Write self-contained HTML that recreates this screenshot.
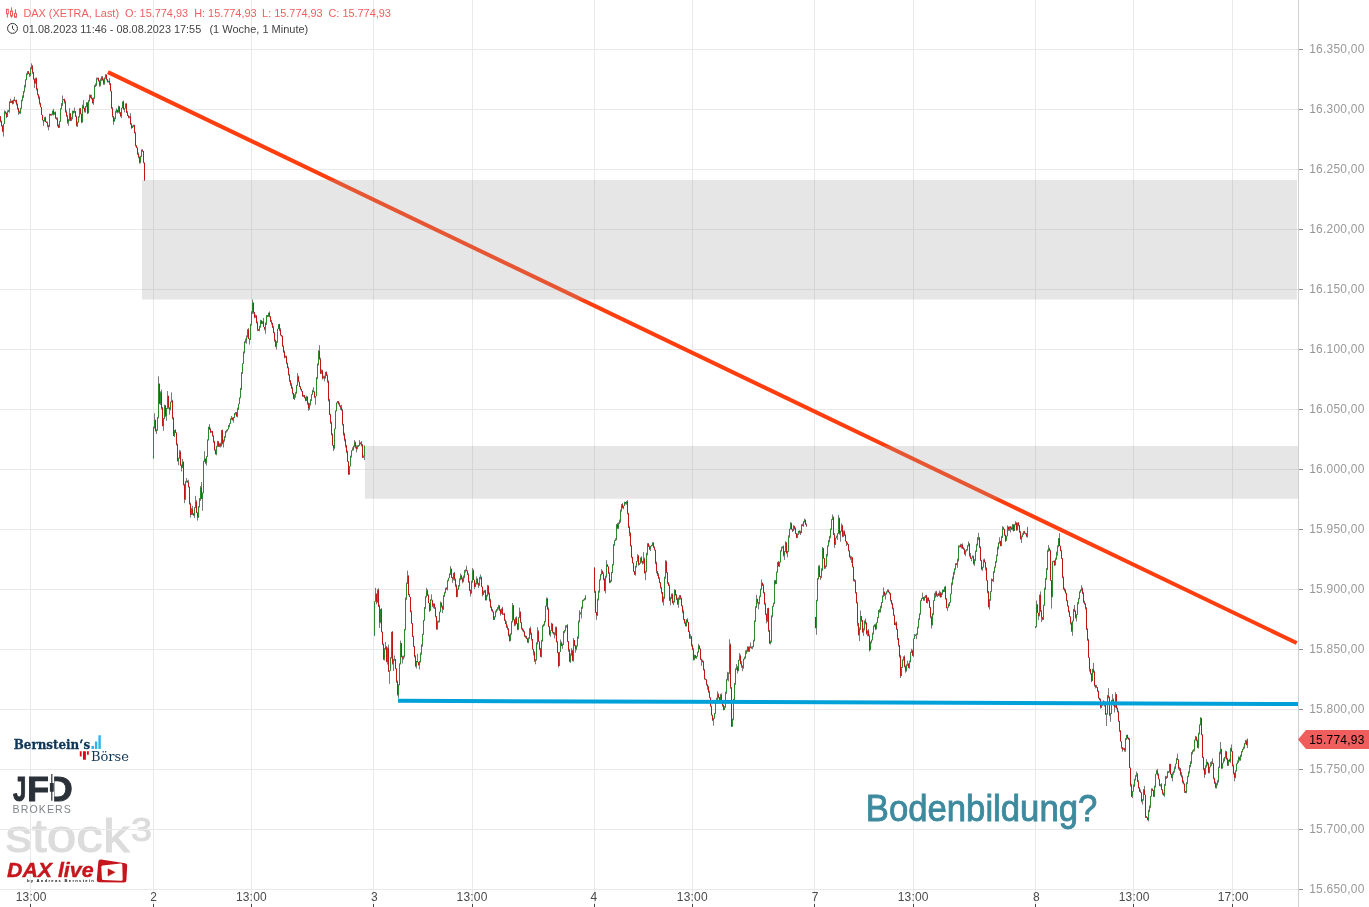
<!DOCTYPE html>
<html lang="de"><head><meta charset="utf-8"><title>DAX Chart</title>
<style>
html,body{margin:0;padding:0;background:#fff;}
body{width:1369px;height:907px;overflow:hidden;position:relative;font-family:"Liberation Sans",sans-serif;}
svg{position:absolute;left:0;top:0;display:block}
svg text{font-family:"Liberation Sans",sans-serif;}
.pl text{font-size:12px;fill:#999;}
.xl text{font-size:12px;fill:#4a4a4a;text-anchor:middle;letter-spacing:0.2px;}
</style></head><body>
<svg width="1369" height="907" viewBox="0 0 1369 907">
<rect width="1369" height="907" fill="#fff"/>
<!-- stock3 -->
<g fill="#dcdcdc" stroke="#dcdcdc" stroke-width="1"><text x="5.500" y="852.400" font-size="45.500" textLength="124" lengthAdjust="spacingAndGlyphs">stock</text><text x="131" y="841" font-size="33.500" textLength="21" lengthAdjust="spacingAndGlyphs">3</text></g>
<path d="M30.5 0V907M153.5 0V907M251.5 0V907M373.5 0V907M472.5 0V907M594.5 0V907M692.5 0V907M814.5 0V907M913.5 0V907M1035.5 0V907M1133.5 0V907M1232.5 0V907M0 49.5H1298M0 109.5H1298M0 169.5H1298M0 229.5H1298M0 289.5H1298M0 349.5H1298M0 409.5H1298M0 469.5H1298M0 529.5H1298M0 589.5H1298M0 649.5H1298M0 709.5H1298M0 769.5H1298M0 829.5H1298M0 889.5H1298" stroke="#e9e9e9" stroke-width="1" fill="none"/>
<!-- candles -->
<path d="M0.5 116.1V122.4M1.5 120.5V126.5M2.5 125.1V131.7M3.5 123.8V136.6M4.5 110.4V124.1M5.5 111.0V114.4M6.5 112.4V118.2M7.5 110.3V117.1M8.5 110.1V112.2M9.5 101.4V112.7M10.5 98.8V103.0M11.5 100.8V103.0M12.5 100.2V104.5M13.5 99.4V103.8M14.5 96.7V100.6M15.5 100.1V102.5M16.5 99.6V105.5M17.5 103.3V109.7M18.5 107.7V114.9M19.5 110.7V113.7M20.5 107.7V114.0M21.5 99.7V108.9M22.5 95.3V101.4M23.5 91.1V98.0M24.5 84.9V92.5M25.5 79.3V87.5M26.5 73.2V80.2M27.5 71.4V75.2M28.5 71.1V74.1M29.5 73.4V77.0M30.5 67.2V76.4M31.5 63.4V69.3M32.5 65.0V73.9M33.5 72.1V79.7M34.5 78.5V88.0M35.5 77.8V83.8M36.5 77.5V90.5M37.5 88.2V95.4M38.5 94.3V99.1M39.5 96.3V104.6M40.5 102.7V107.3M41.5 107.0V115.1M42.5 114.7V120.6M43.5 120.1V125.9M44.5 117.1V121.3M45.5 116.7V122.1M46.5 121.3V123.0M47.5 121.5V127.3M48.5 124.9V130.4M49.5 113.6V127.1M50.5 113.9V115.4M51.5 113.7V115.6M52.5 110.7V115.2M53.5 108.8V115.5M54.5 111.8V114.7M55.5 111.5V119.0M56.5 117.4V119.8M57.5 117.4V126.6M58.5 124.2V128.0M59.5 120.8V127.7M60.5 108.3V121.8M61.5 103.0V109.5M62.5 95.5V106.1M63.5 99.2V100.4M64.5 98.7V103.5M65.5 100.5V112.6M66.5 110.4V116.6M67.5 115.0V123.7M68.5 119.1V125.9M69.5 108.1V121.1M70.5 113.0V121.2M71.5 116.8V120.8M72.5 110.7V119.4M73.5 110.7V113.7M74.5 107.6V112.9M75.5 111.2V116.6M76.5 115.6V126.5M77.5 121.6V127.0M78.5 116.4V122.7M79.5 108.3V117.6M80.5 108.0V114.3M81.5 113.5V123.3M82.5 104.6V122.6M83.5 100.1V108.8M84.5 107.9V112.4M85.5 106.2V112.7M86.5 102.1V107.4M87.5 102.3V114.1M88.5 99.9V113.3M89.5 94.4V101.6M90.5 94.6V98.2M91.5 94.8V99.4M92.5 97.8V103.6M93.5 97.4V104.9M94.5 85.0V99.2M95.5 83.3V87.0M96.5 77.5V86.1M97.5 77.6V79.7M98.5 77.6V81.4M99.5 80.1V86.9M100.5 78.5V86.3M101.5 76.2V81.2M102.5 76.1V80.7M103.5 78.5V84.9M104.5 77.5V84.8M105.5 74.3V78.7M106.5 74.6V80.3M107.5 79.4V82.5M108.5 80.7V82.5M109.5 78.1V85.1M110.5 83.2V91.2M111.5 90.7V108.7M112.5 107.1V117.5M113.5 116.0V124.8M114.5 117.5V121.6M115.5 110.7V119.3M116.5 108.4V112.8M117.5 109.8V113.4M118.5 105.5V112.7M119.5 106.0V113.9M120.5 112.2V116.9M121.5 107.7V118.2M122.5 101.5V108.4M123.5 100.6V109.7M124.5 108.4V112.3M125.5 103.5V108.3M126.5 103.0V112.9M127.5 111.1V116.0M128.5 115.1V118.3M129.5 116.3V118.3M130.5 113.2V124.8M131.5 123.1V128.9M132.5 125.4V128.0M133.5 124.8V127.2M134.5 124.7V133.3M135.5 131.8V146.6M136.5 145.2V148.2M137.5 147.5V154.8M138.5 152.5V158.4M139.5 156.5V163.7M140.5 155.8V163.4M141.5 149.4V157.1M142.5 149.3V151.9M143.5 151.0V163.3M144.5 162.6V180.9M153.5 426.6V458.8M154.5 413.3V428.7M155.5 419.6V431.5M156.5 429.4V434.0M157.5 416.9V430.9M158.5 376.3V418.4M159.5 383.6V404.2M160.5 391.3V405.0M161.5 389.6V409.5M162.5 406.9V426.3M163.5 418.1V430.8M164.5 404.6V419.2M165.5 404.9V416.9M166.5 408.1V420.9M167.5 391.0V409.0M168.5 395.8V408.8M169.5 407.5V414.8M170.5 401.6V410.4M171.5 392.4V402.5M172.5 399.8V419.4M173.5 417.1V435.9M174.5 429.9V437.0M175.5 429.3V432.9M176.5 432.4V445.5M177.5 443.4V461.5M178.5 457.6V465.3M179.5 449.9V458.6M180.5 450.5V465.6M181.5 464.3V471.4M182.5 458.9V468.0M183.5 461.5V485.6M184.5 483.8V503.2M185.5 480.8V500.0M186.5 478.0V482.5M187.5 480.4V482.5M188.5 479.7V487.6M189.5 486.6V504.6M190.5 502.7V517.5M191.5 507.9V515.0M192.5 505.8V515.2M193.5 513.1V515.8M194.5 507.1V518.1M195.5 495.9V508.1M196.5 500.3V513.1M197.5 512.3V520.6M198.5 506.0V518.0M199.5 498.0V507.6M200.5 486.1V500.9M201.5 482.0V499.1M202.5 492.4V510.8M203.5 460.7V493.2M204.5 451.2V461.9M205.5 458.4V463.9M206.5 456.1V465.7M207.5 439.3V457.1M208.5 426.7V440.5M209.5 424.1V429.7M210.5 427.7V433.1M211.5 430.9V432.5M212.5 431.0V436.5M213.5 435.2V442.9M214.5 440.8V450.7M215.5 449.4V454.6M216.5 445.8V455.3M217.5 440.8V447.2M218.5 441.2V446.9M219.5 443.3V447.1M220.5 442.6V447.5M221.5 430.2V446.6M222.5 429.5V444.3M223.5 439.6V447.6M224.5 436.0V441.8M225.5 431.0V437.6M226.5 429.7V432.7M227.5 429.0V431.4M228.5 424.9V429.3M229.5 423.3V427.3M230.5 418.4V423.8M231.5 416.0V420.0M232.5 417.6V420.6M233.5 417.0V422.6M234.5 413.0V418.1M235.5 411.9V414.8M236.5 412.0V416.7M237.5 407.7V417.4M238.5 403.8V410.0M239.5 397.3V404.3M240.5 387.8V398.3M241.5 372.2V390.0M242.5 363.3V374.0M243.5 351.4V363.9M244.5 341.4V353.6M245.5 338.6V343.1M246.5 335.4V343.7M247.5 329.3V337.5M248.5 328.1V339.0M249.5 338.4V344.5M250.5 323.9V339.9M251.5 311.2V325.8M252.5 299.5V314.1M253.5 302.5V313.7M254.5 312.1V318.3M255.5 314.5V317.8M256.5 315.5V323.4M257.5 321.4V331.2M258.5 329.2V331.0M259.5 325.8V331.2M260.5 319.9V327.7M261.5 320.3V324.1M262.5 321.3V324.1M263.5 317.9V327.1M264.5 326.9V330.4M265.5 322.3V333.8M266.5 315.1V325.1M267.5 315.1V317.0M268.5 312.6V316.5M269.5 311.5V317.3M270.5 316.2V321.9M271.5 320.0V324.6M272.5 322.7V328.1M273.5 325.9V333.3M274.5 331.8V341.8M275.5 339.5V347.1M276.5 341.1V349.5M277.5 328.7V342.9M278.5 324.2V329.1M279.5 323.8V331.3M280.5 328.1V335.6M281.5 334.8V336.7M282.5 335.5V346.8M283.5 345.4V352.8M284.5 350.4V358.4M285.5 355.5V357.8M286.5 355.7V364.2M287.5 362.6V368.4M288.5 366.6V375.6M289.5 374.1V382.1M290.5 380.2V385.9M291.5 383.0V388.6M292.5 386.6V394.4M293.5 393.0V399.0M294.5 394.4V400.0M295.5 391.9V397.7M296.5 384.8V393.8M297.5 373.1V385.7M298.5 375.6V382.2M299.5 381.6V387.1M300.5 385.9V389.9M301.5 388.9V391.6M302.5 390.8V396.7M303.5 394.8V397.1M304.5 395.1V398.4M305.5 396.8V401.3M306.5 395.7V401.1M307.5 396.4V404.8M308.5 402.4V410.9M309.5 403.0V409.9M310.5 399.3V405.6M311.5 394.3V401.1M312.5 389.7V394.9M313.5 387.1V392.2M314.5 391.2V398.1M315.5 396.4V404.8M316.5 377.0V396.3M317.5 363.4V379.3M318.5 350.3V365.5M319.5 345.2V359.5M320.5 357.7V374.1M321.5 369.3V373.9M322.5 369.8V379.6M323.5 375.7V378.6M324.5 375.6V381.3M325.5 371.8V378.6M326.5 371.4V375.8M327.5 374.5V382.7M328.5 380.4V401.5M329.5 398.9V414.9M330.5 413.8V423.8M331.5 421.6V435.4M332.5 433.4V445.8M333.5 445.0V451.0M334.5 428.5V449.3M335.5 410.4V429.2M336.5 402.6V411.3M337.5 401.1V403.4M338.5 401.0V404.7M339.5 402.5V406.8M340.5 405.5V409.9M341.5 404.9V410.6M342.5 408.8V425.5M343.5 424.0V435.8M344.5 432.7V441.4M345.5 438.6V447.6M346.5 444.9V453.1M347.5 450.5V461.8M348.5 461.2V475.1M349.5 465.9V474.7M350.5 455.6V466.3M351.5 450.3V457.6M352.5 447.3V450.8M353.5 445.7V450.4M354.5 440.2V447.3M355.5 441.6V448.4M356.5 445.4V452.4M357.5 445.2V449.3M358.5 444.9V447.1M359.5 440.1V445.8M360.5 442.5V444.4M361.5 441.1V446.5M362.5 443.9V458.0M363.5 455.6V457.7M364.5 445.4V460.1M374.5 601.5V635.9M375.5 587.8V601.7M376.5 593.6V604.3M377.5 589.2V602.8M378.5 588.2V607.0M379.5 604.7V628.0M380.5 608.9V623.3M381.5 608.2V632.4M382.5 631.8V645.1M383.5 643.5V660.1M384.5 648.0V660.5M385.5 642.0V649.5M386.5 646.2V662.2M387.5 647.3V664.6M388.5 644.6V671.8M389.5 670.5V683.9M390.5 657.0V670.8M391.5 631.8V658.3M392.5 631.0V664.6M393.5 658.8V671.1M394.5 655.5V660.9M395.5 659.0V669.2M396.5 668.3V682.9M397.5 680.4V695.7M398.5 684.1V698.4M399.5 663.3V685.4M400.5 640.6V664.5M401.5 643.2V657.4M402.5 655.8V663.5M403.5 655.6V659.7M404.5 629.0V657.6M405.5 597.4V630.4M406.5 582.5V599.9M407.5 570.6V584.0M408.5 575.1V595.3M409.5 593.9V597.1M410.5 596.8V612.2M411.5 610.6V623.8M412.5 623.2V636.9M413.5 635.8V647.2M414.5 646.0V657.4M415.5 655.2V667.1M416.5 660.9V668.6M417.5 653.8V662.3M418.5 661.9V665.3M419.5 660.8V669.6M420.5 652.6V662.5M421.5 644.4V654.8M422.5 633.9V646.8M423.5 620.0V634.9M424.5 607.0V620.9M425.5 596.1V609.0M426.5 587.8V597.5M427.5 589.4V595.9M428.5 594.4V603.3M429.5 602.9V611.9M430.5 599.5V610.9M431.5 594.3V599.8M432.5 599.7V607.0M433.5 603.3V608.3M434.5 603.3V609.0M435.5 607.2V617.4M436.5 616.1V629.9M437.5 620.7V629.8M438.5 620.6V622.6M439.5 611.5V622.4M440.5 601.4V612.2M441.5 602.4V607.6M442.5 605.6V613.1M443.5 595.2V610.0M444.5 591.8V597.0M445.5 587.7V593.3M446.5 587.2V589.7M447.5 579.9V590.5M448.5 577.8V581.3M449.5 573.3V578.3M450.5 566.1V575.0M451.5 568.6V578.1M452.5 576.9V582.9M453.5 572.8V580.3M454.5 571.8V580.7M455.5 578.5V587.2M456.5 584.4V597.4M457.5 588.6V596.9M458.5 585.0V589.7M459.5 578.3V586.7M460.5 573.6V580.3M461.5 574.9V579.5M462.5 577.4V583.3M463.5 575.6V582.2M464.5 570.0V578.2M465.5 569.3V572.5M466.5 565.7V571.0M467.5 570.1V574.7M468.5 573.3V582.9M469.5 581.3V591.1M470.5 589.4V596.5M471.5 580.6V593.6M472.5 568.1V582.7M473.5 569.3V580.0M474.5 579.7V589.1M475.5 582.6V587.1M476.5 576.4V584.6M477.5 578.3V584.6M478.5 582.7V588.1M479.5 576.8V585.9M480.5 574.5V579.5M481.5 576.9V587.2M482.5 586.7V596.5M483.5 590.6V595.0M484.5 590.2V592.9M485.5 589.9V600.5M486.5 594.8V600.4M487.5 584.8V596.7M488.5 585.3V594.8M489.5 592.4V601.7M490.5 598.8V608.1M491.5 606.4V611.2M492.5 608.9V612.4M493.5 611.4V620.0M494.5 616.2V619.9M495.5 610.6V617.3M496.5 609.1V612.5M497.5 607.1V610.7M498.5 604.8V609.5M499.5 605.0V611.1M500.5 609.4V615.7M501.5 608.6V613.7M502.5 606.7V614.9M503.5 613.9V614.8M504.5 612.9V620.9M505.5 619.4V624.1M506.5 621.3V628.0M507.5 625.3V629.9M508.5 628.3V636.5M509.5 634.2V641.5M510.5 633.1V641.2M511.5 621.4V634.7M512.5 603.0V622.5M513.5 604.8V620.4M514.5 619.5V626.3M515.5 617.3V625.7M516.5 616.4V624.1M517.5 623.3V630.3M518.5 617.4V630.2M519.5 607.6V618.0M520.5 611.3V623.1M521.5 622.3V629.5M522.5 627.8V631.3M523.5 629.2V632.4M524.5 631.1V636.9M525.5 635.3V638.1M526.5 635.9V639.2M527.5 638.1V642.9M528.5 637.4V643.2M529.5 628.2V638.9M530.5 626.6V634.9M531.5 632.5V640.6M532.5 639.1V649.5M533.5 648.8V655.5M534.5 651.3V662.0M535.5 659.1V664.3M536.5 642.2V660.7M537.5 627.2V644.4M538.5 630.2V641.8M539.5 641.5V650.2M540.5 647.9V657.1M541.5 639.8V657.5M542.5 625.4V641.7M543.5 623.8V626.9M544.5 620.9V625.8M545.5 605.8V622.3M546.5 597.5V606.7M547.5 597.8V609.9M548.5 607.4V627.2M549.5 626.3V635.4M550.5 630.4V636.9M551.5 622.7V630.8M552.5 623.7V633.3M553.5 631.9V634.6M554.5 632.3V638.4M555.5 626.5V635.6M556.5 626.6V642.3M557.5 641.0V653.2M558.5 652.1V667.5M559.5 651.9V666.0M560.5 639.5V652.0M561.5 641.6V646.2M562.5 643.5V648.8M563.5 631.0V645.0M564.5 630.1V633.2M565.5 625.4V631.3M566.5 625.3V627.7M567.5 624.2V642.2M568.5 641.2V651.8M569.5 648.9V662.1M570.5 653.4V662.9M571.5 648.2V655.7M572.5 649.9V661.4M573.5 638.0V661.6M574.5 640.1V646.2M575.5 644.9V652.7M576.5 645.5V650.2M577.5 636.2V646.5M578.5 620.6V638.9M579.5 610.2V622.5M580.5 612.4V614.6M581.5 606.6V618.5M582.5 599.9V608.9M583.5 599.4V601.3M584.5 597.9V600.5M585.5 595.1V599.9M594.5 567.1V593.0M595.5 590.7V612.9M596.5 611.9V619.9M597.5 598.6V615.9M598.5 590.5V600.5M599.5 579.4V592.7M600.5 574.3V580.5M601.5 569.1V575.4M602.5 570.5V573.9M603.5 572.3V580.5M604.5 578.2V591.2M605.5 575.6V593.4M606.5 560.1V577.8M607.5 564.4V566.9M608.5 566.5V573.7M609.5 572.2V583.3M610.5 579.9V582.6M611.5 571.8V581.5M612.5 564.0V573.3M613.5 543.9V565.5M614.5 540.1V545.7M615.5 538.2V541.2M616.5 524.1V540.3M617.5 522.9V529.2M618.5 522.4V529.0M619.5 519.6V523.8M620.5 509.5V522.7M621.5 504.1V511.7M622.5 503.1V508.4M623.5 505.7V509.3M624.5 501.7V506.1M625.5 502.1V504.4M626.5 501.1V504.7M627.5 500.2V514.5M628.5 512.9V528.1M629.5 525.9V536.3M630.5 532.3V546.5M631.5 545.2V558.1M632.5 556.7V563.3M633.5 562.4V571.7M634.5 571.0V575.0M635.5 565.7V575.7M636.5 561.0V567.5M637.5 554.1V561.5M638.5 555.5V565.7M639.5 563.0V565.0M640.5 557.5V563.6M641.5 556.3V562.7M642.5 560.9V564.5M643.5 552.1V563.9M644.5 557.5V573.3M645.5 570.9V580.2M646.5 552.7V572.3M647.5 543.2V555.5M648.5 543.0V546.8M649.5 545.3V550.0M650.5 546.0V551.0M651.5 544.8V546.5M652.5 542.1V546.2M653.5 542.1V547.7M654.5 546.3V550.6M655.5 549.8V564.2M656.5 561.5V573.4M657.5 571.2V576.0M658.5 573.2V578.9M659.5 577.2V583.3M660.5 582.1V588.6M661.5 586.9V593.9M662.5 592.0V602.6M663.5 596.5V605.6M664.5 576.6V599.1M665.5 560.2V578.7M666.5 560.6V573.2M667.5 572.3V584.0M668.5 582.2V585.9M669.5 584.4V600.7M670.5 596.9V605.4M671.5 593.5V599.0M672.5 593.3V603.3M673.5 600.7V605.2M674.5 589.2V602.6M675.5 589.8V595.7M676.5 594.1V600.1M677.5 597.8V605.0M678.5 597.3V607.9M679.5 595.0V600.0M680.5 595.0V599.6M681.5 597.6V606.3M682.5 605.2V613.3M683.5 609.9V620.3M684.5 618.9V623.7M685.5 621.4V626.4M686.5 619.0V626.6M687.5 618.2V622.7M688.5 622.0V632.1M689.5 630.6V638.9M690.5 634.2V638.9M691.5 636.4V646.5M692.5 644.4V650.1M693.5 648.2V660.5M694.5 654.6V660.2M695.5 654.9V658.4M696.5 656.0V658.8M697.5 651.5V656.6M698.5 643.9V652.6M699.5 645.6V649.3M700.5 648.4V659.9M701.5 658.7V665.9M702.5 659.7V662.4M703.5 660.7V670.6M704.5 668.9V679.6M705.5 678.4V679.5M706.5 679.2V685.7M707.5 684.2V689.8M708.5 685.8V692.9M709.5 690.6V698.2M710.5 697.4V706.5M711.5 705.7V715.4M712.5 714.6V721.1M713.5 717.8V725.7M714.5 712.9V718.7M715.5 701.5V714.1M716.5 697.7V703.5M717.5 691.2V700.2M718.5 693.3V698.4M719.5 697.0V702.2M720.5 693.8V701.7M721.5 693.4V702.8M722.5 700.7V706.7M723.5 704.7V710.4M724.5 706.1V710.1M725.5 691.6V707.8M726.5 678.9V693.9M727.5 671.8V680.4M728.5 672.6V681.4M729.5 639.3V674.1M730.5 643.4V688.9M731.5 687.2V727.0M732.5 718.8V726.8M733.5 698.8V720.3M734.5 682.9V701.2M735.5 668.2V684.9M736.5 664.0V670.0M737.5 665.9V673.6M738.5 659.8V671.3M739.5 653.1V660.9M740.5 654.4V664.4M741.5 661.0V667.8M742.5 665.4V671.2M743.5 658.7V668.8M744.5 656.6V659.5M745.5 650.3V658.7M746.5 649.8V653.9M747.5 646.4V652.1M748.5 646.6V651.6M749.5 646.2V651.9M750.5 642.4V647.6M751.5 646.3V648.7M752.5 646.4V649.2M753.5 639.7V647.3M754.5 620.4V641.5M755.5 606.2V622.0M756.5 594.9V607.9M757.5 598.7V603.6M758.5 602.2V609.3M759.5 595.7V604.4M760.5 588.8V597.1M761.5 579.4V590.0M762.5 582.6V586.0M763.5 584.1V593.5M764.5 591.9V604.8M765.5 602.7V615.1M766.5 613.5V623.3M767.5 608.1V622.0M768.5 607.7V631.9M769.5 629.9V644.0M770.5 640.5V644.5M771.5 615.3V642.5M772.5 605.8V617.3M773.5 602.5V606.8M774.5 580.1V604.1M775.5 580.2V584.4M776.5 571.5V584.1M777.5 562.2V572.6M778.5 560.9V566.6M779.5 561.6V567.1M780.5 550.1V562.6M781.5 546.6V551.4M782.5 546.4V548.4M783.5 545.4V556.6M784.5 551.0V559.9M785.5 541.3V551.9M786.5 542.0V553.6M787.5 550.9V557.3M788.5 535.3V552.1M789.5 528.7V537.7M790.5 522.1V529.3M791.5 522.7V529.8M792.5 528.8V532.1M793.5 525.2V531.2M794.5 525.8V529.8M795.5 527.4V533.9M796.5 533.1V538.3M797.5 533.6V538.1M798.5 530.8V534.9M799.5 530.4V533.6M800.5 530.7V535.0M801.5 524.4V533.2M802.5 523.7V525.9M803.5 521.0V526.9M804.5 518.6V522.6M805.5 519.6V524.7M806.5 523.3V526.9M815.5 616.9V628.3M816.5 599.8V634.8M817.5 578.2V601.3M818.5 565.5V579.6M819.5 565.0V577.1M820.5 575.9V579.9M821.5 568.1V577.9M822.5 547.0V571.0M823.5 548.0V558.6M824.5 558.1V569.1M825.5 565.6V568.8M826.5 553.9V567.1M827.5 545.6V556.6M828.5 540.0V546.8M829.5 535.9V542.5M830.5 528.7V538.3M831.5 519.0V530.2M832.5 514.4V519.9M833.5 516.3V535.1M834.5 533.1V547.9M835.5 537.6V544.8M836.5 535.6V538.3M837.5 533.3V540.1M838.5 514.8V533.9M839.5 517.6V534.7M840.5 530.7V541.7M841.5 523.5V531.7M842.5 524.8V537.3M843.5 530.5V537.1M844.5 530.4V536.1M845.5 534.3V541.7M846.5 541.1V546.0M847.5 542.2V544.9M848.5 543.8V551.4M849.5 550.4V557.3M850.5 555.6V559.8M851.5 556.3V563.0M852.5 557.3V567.5M853.5 566.5V581.3M854.5 578.9V581.5M855.5 579.9V593.6M856.5 592.2V603.3M857.5 601.8V626.3M858.5 622.9V635.7M859.5 627.4V641.1M860.5 610.4V630.1M861.5 616.0V621.7M862.5 619.8V632.9M863.5 628.1V635.9M864.5 620.4V630.4M865.5 618.5V624.4M866.5 622.2V634.5M867.5 630.3V636.4M868.5 629.1V636.2M869.5 634.4V651.5M870.5 641.3V650.3M871.5 639.8V643.4M872.5 632.6V640.5M873.5 625.5V634.7M874.5 624.3V627.2M875.5 623.6V630.2M876.5 622.3V629.6M877.5 616.9V623.0M878.5 610.0V618.2M879.5 608.9V612.7M880.5 605.7V612.6M881.5 602.0V608.3M882.5 595.4V603.0M883.5 587.6V597.0M884.5 591.4V596.1M885.5 593.1V599.6M886.5 591.5V594.5M887.5 589.4V592.5M888.5 589.4V592.7M889.5 591.7V594.5M890.5 592.9V601.5M891.5 600.0V604.6M892.5 602.7V609.4M893.5 607.6V615.7M894.5 614.6V625.0M895.5 622.5V625.6M896.5 621.4V630.1M897.5 628.8V640.0M898.5 638.0V646.6M899.5 645.0V657.7M900.5 654.9V678.0M901.5 667.0V676.2M902.5 659.6V668.0M903.5 656.4V660.8M904.5 655.4V667.4M905.5 665.5V672.7M906.5 664.4V671.7M907.5 660.7V665.8M908.5 663.5V668.2M909.5 660.6V668.7M910.5 651.7V662.3M911.5 648.8V652.8M912.5 649.7V656.0M913.5 638.3V657.0M914.5 634.0V639.0M915.5 634.4V636.1M916.5 633.5V639.2M917.5 626.8V635.2M918.5 618.5V628.3M919.5 613.5V620.1M920.5 600.2V614.9M921.5 598.2V601.3M922.5 592.6V598.9M923.5 597.0V600.8M924.5 596.2V600.8M925.5 595.2V598.0M926.5 594.7V602.8M927.5 597.4V603.5M928.5 597.3V601.4M929.5 599.9V608.1M930.5 606.9V618.3M931.5 616.4V628.6M932.5 613.2V625.6M933.5 600.1V615.2M934.5 592.9V601.1M935.5 591.3V597.8M936.5 590.8V596.4M937.5 594.1V597.1M938.5 592.8V596.0M939.5 590.6V596.5M940.5 591.8V597.7M941.5 592.5V597.2M942.5 589.5V594.8M943.5 589.4V592.0M944.5 586.6V592.1M945.5 585.8V599.6M946.5 598.0V608.4M947.5 607.8V610.9M948.5 603.4V607.8M949.5 602.0V606.0M950.5 593.7V602.8M951.5 582.4V594.4M952.5 576.6V585.3M953.5 571.8V579.6M954.5 568.4V574.7M955.5 563.3V569.9M956.5 563.1V565.1M957.5 558.7V567.8M958.5 545.2V561.6M959.5 546.1V547.7M960.5 543.7V547.3M961.5 544.0V548.5M962.5 543.4V548.7M963.5 547.0V549.6M964.5 548.3V554.6M965.5 550.2V556.2M966.5 549.0V551.6M967.5 545.1V550.6M968.5 541.4V546.4M969.5 543.5V556.7M970.5 553.0V558.7M971.5 557.7V561.3M972.5 555.4V558.3M973.5 555.6V564.6M974.5 559.0V565.9M975.5 550.4V561.1M976.5 543.7V552.0M977.5 537.0V545.7M978.5 532.8V540.1M979.5 537.5V548.2M980.5 546.2V561.0M981.5 560.0V570.1M982.5 566.9V570.9M983.5 559.3V567.8M984.5 558.6V562.6M985.5 561.7V570.5M986.5 567.5V580.5M987.5 580.1V593.4M988.5 590.8V607.5M989.5 599.1V609.6M990.5 591.1V601.0M991.5 578.4V591.9M992.5 579.3V581.4M993.5 571.1V582.1M994.5 566.4V572.9M995.5 561.2V567.6M996.5 554.7V562.9M997.5 546.5V556.2M998.5 542.5V549.6M999.5 537.2V543.9M1000.5 540.7V546.4M1001.5 535.8V546.1M1002.5 526.1V538.0M1003.5 526.8V529.7M1004.5 528.8V536.2M1005.5 534.6V542.0M1006.5 535.7V540.7M1007.5 525.4V536.2M1008.5 526.7V530.9M1009.5 526.4V530.8M1010.5 526.2V532.5M1011.5 526.7V529.9M1012.5 524.2V530.4M1013.5 524.5V531.5M1014.5 524.1V530.9M1015.5 521.2V525.3M1016.5 522.6V530.8M1017.5 522.5V530.3M1018.5 522.0V526.4M1019.5 525.1V532.8M1020.5 530.8V539.6M1021.5 535.5V543.0M1022.5 533.2V537.3M1023.5 531.4V535.0M1024.5 530.8V533.8M1025.5 532.9V534.4M1026.5 533.0V537.1M1027.5 526.8V537.7M1035.5 626.0V628.2M1036.5 600.5V627.3M1037.5 604.1V613.1M1038.5 612.9V620.1M1039.5 594.6V616.4M1040.5 591.4V611.8M1041.5 610.1V622.1M1042.5 617.2V620.3M1043.5 604.7V620.0M1044.5 587.5V605.8M1045.5 577.9V589.9M1046.5 568.0V579.6M1047.5 549.8V570.2M1048.5 545.0V551.9M1049.5 547.6V551.2M1050.5 549.8V580.8M1051.5 580.0V608.6M1052.5 560.9V597.4M1053.5 560.7V562.3M1054.5 560.2V565.9M1055.5 557.8V565.4M1056.5 551.6V559.8M1057.5 545.3V555.6M1058.5 538.2V547.2M1059.5 533.1V546.2M1060.5 545.6V551.2M1061.5 549.8V559.1M1062.5 558.1V578.2M1063.5 576.4V589.7M1064.5 587.7V591.5M1065.5 589.2V593.7M1066.5 592.7V601.3M1067.5 600.1V606.4M1068.5 605.4V612.4M1069.5 610.7V617.1M1070.5 616.3V624.6M1071.5 622.2V632.0M1072.5 620.6V635.8M1073.5 608.8V621.3M1074.5 604.9V612.1M1075.5 610.3V618.6M1076.5 614.0V621.5M1077.5 602.1V614.8M1078.5 598.0V604.2M1079.5 591.3V599.2M1080.5 589.4V592.8M1081.5 585.2V591.2M1082.5 587.6V594.1M1083.5 592.0V602.8M1084.5 600.7V604.6M1085.5 603.1V609.6M1086.5 607.1V630.0M1087.5 628.2V640.9M1088.5 638.7V657.8M1089.5 657.5V671.7M1090.5 668.9V674.6M1091.5 673.3V682.1M1092.5 668.7V681.1M1093.5 662.9V672.9M1094.5 670.6V686.7M1095.5 684.8V688.4M1096.5 684.9V687.8M1097.5 687.0V691.8M1098.5 690.5V698.8M1099.5 697.7V700.2M1100.5 698.4V708.6M1101.5 705.0V708.1M1102.5 702.9V706.0M1103.5 700.3V704.1M1104.5 701.4V706.6M1105.5 704.5V714.9M1106.5 713.6V726.0M1107.5 695.1V714.7M1108.5 688.1V698.5M1109.5 696.5V716.3M1110.5 712.9V721.8M1111.5 699.9V713.9M1112.5 694.2V701.9M1113.5 698.5V705.8M1114.5 704.1V712.5M1115.5 692.2V707.6M1116.5 694.1V709.3M1117.5 707.6V712.3M1118.5 710.6V721.9M1119.5 720.8V732.1M1120.5 730.4V741.5M1121.5 741.4V748.7M1122.5 747.0V751.7M1123.5 747.8V749.7M1124.5 747.9V751.6M1125.5 738.0V751.8M1126.5 734.9V739.9M1127.5 734.6V738.9M1128.5 737.3V740.0M1129.5 738.0V768.0M1130.5 767.6V786.7M1131.5 783.8V797.0M1132.5 790.9V798.1M1133.5 784.4V791.6M1134.5 778.8V786.9M1135.5 775.3V780.4M1136.5 771.6V776.8M1137.5 773.0V781.8M1138.5 780.2V788.6M1139.5 787.0V791.7M1140.5 789.4V792.5M1141.5 792.4V802.3M1142.5 799.2V804.7M1143.5 789.0V800.6M1144.5 785.9V794.9M1145.5 794.7V818.0M1146.5 816.0V818.0M1147.5 816.9V820.3M1148.5 809.8V821.4M1149.5 805.3V812.1M1150.5 795.8V808.2M1151.5 788.3V796.8M1152.5 788.4V790.9M1153.5 789.9V796.9M1154.5 785.6V797.2M1155.5 773.8V787.7M1156.5 769.8V774.2M1157.5 768.8V775.7M1158.5 773.3V779.3M1159.5 778.7V786.1M1160.5 784.3V786.5M1161.5 783.2V790.2M1162.5 789.2V794.6M1163.5 792.5V795.4M1164.5 783.9V796.9M1165.5 775.8V785.9M1166.5 776.2V779.1M1167.5 771.0V777.8M1168.5 771.2V773.1M1169.5 763.7V772.6M1170.5 763.9V774.7M1171.5 773.8V778.1M1172.5 772.4V781.4M1173.5 770.7V774.7M1174.5 766.5V772.7M1175.5 763.6V769.0M1176.5 757.9V764.0M1177.5 753.6V759.6M1178.5 759.0V769.4M1179.5 766.9V771.1M1180.5 768.0V775.6M1181.5 772.0V777.5M1182.5 775.5V783.3M1183.5 780.4V784.5M1184.5 783.5V793.0M1185.5 791.0V793.1M1186.5 782.3V793.2M1187.5 775.8V784.1M1188.5 771.3V777.2M1189.5 764.9V773.5M1190.5 761.2V767.3M1191.5 752.0V763.9M1192.5 750.2V754.4M1193.5 749.1V751.9M1194.5 739.7V751.4M1195.5 735.9V740.6M1196.5 736.5V741.2M1197.5 739.6V748.0M1198.5 732.8V748.6M1199.5 724.2V734.5M1200.5 717.1V725.3M1201.5 717.9V735.3M1202.5 734.3V758.0M1203.5 756.7V770.4M1204.5 768.1V777.9M1205.5 765.1V774.7M1206.5 759.1V767.5M1207.5 761.7V765.5M1208.5 762.7V773.4M1209.5 766.7V773.3M1210.5 761.9V767.4M1211.5 761.2V765.8M1212.5 758.3V764.1M1213.5 763.0V779.4M1214.5 777.8V783.9M1215.5 781.6V788.3M1216.5 782.9V788.5M1217.5 780.1V785.3M1218.5 766.7V782.7M1219.5 751.6V767.9M1220.5 742.0V754.3M1221.5 748.8V769.0M1222.5 762.9V768.7M1223.5 758.3V763.4M1224.5 756.9V761.5M1225.5 750.6V758.4M1226.5 751.0V759.7M1227.5 757.9V766.0M1228.5 759.7V765.9M1229.5 758.7V761.9M1230.5 747.8V762.8M1231.5 744.5V751.6M1232.5 751.2V766.6M1233.5 764.5V774.6M1234.5 772.6V781.3M1235.5 770.4V778.2M1236.5 763.4V771.5M1237.5 760.5V764.3M1238.5 756.3V762.8M1239.5 756.7V760.8M1240.5 754.7V760.8M1241.5 751.0V757.0M1242.5 748.8V752.4M1243.5 746.5V749.7M1244.5 743.0V748.7M1245.5 739.9V744.3M1246.5 739.7V745.3M1247.5 738.7V748.2" stroke="#6b6b6b" stroke-width="0.9" fill="none"/>
<path d="M0.5 116.4V121.4M1.5 121.4V125.9M2.5 125.9V131.6M5.5 112.0V113.0M6.5 113.0V116.7M10.5 101.6V102.6M12.5 100.9V103.3M14.5 100.1V101.1M16.5 100.1V104.0M17.5 104.0V108.5M18.5 108.5V111.9M19.5 111.9V112.9M28.5 71.4V73.5M29.5 73.5V75.1M32.5 66.4V72.3M33.5 72.3V79.3M34.5 79.3V83.2M36.5 78.4V89.0M37.5 89.0V94.4M38.5 94.4V97.7M39.5 97.7V103.3M40.5 103.3V107.1M41.5 107.1V115.0M42.5 115.0V120.1M43.5 120.1V121.3M45.5 117.7V121.9M46.5 121.9V122.9M47.5 122.9V125.7M48.5 125.7V126.7M50.5 114.1V115.4M53.5 110.8V114.4M55.5 112.4V117.8M56.5 117.8V118.8M57.5 118.8V125.4M58.5 125.4V127.6M64.5 99.0V101.9M65.5 101.9V111.8M66.5 111.8V116.4M67.5 116.4V122.5M70.5 113.6V120.5M73.5 111.0V112.4M75.5 111.4V116.6M76.5 116.6V125.6M80.5 108.7V114.1M81.5 114.1V121.9M83.5 106.1V107.9M84.5 107.9V111.4M87.5 102.8V113.1M90.5 95.4V97.3M91.5 97.3V98.6M92.5 98.6V102.8M98.5 78.0V81.3M99.5 81.3V85.2M102.5 77.6V80.0M103.5 80.0V83.5M106.5 74.6V79.4M107.5 79.4V82.0M109.5 81.0V83.6M110.5 83.6V91.2M111.5 91.2V108.5M112.5 108.5V116.2M113.5 116.2V121.4M117.5 109.9V112.0M119.5 106.9V112.4M120.5 112.4V116.0M123.5 101.8V109.3M126.5 103.9V112.6M127.5 112.6V115.8M128.5 115.8V117.5M130.5 116.5V124.2M131.5 124.2V127.9M134.5 125.0V133.2M135.5 133.2V145.6M136.5 145.6V147.8M137.5 147.8V154.1M138.5 154.1V156.8M139.5 156.8V162.1M142.5 150.1V151.1M143.5 151.1V162.6M144.5 162.6V180.4M155.5 420.2V431.0M159.5 383.8V403.4M161.5 392.6V408.0M162.5 408.0V426.0M165.5 405.9V415.8M168.5 395.9V407.6M169.5 407.6V409.2M172.5 400.9V418.1M173.5 418.1V435.8M175.5 430.3V432.8M176.5 432.8V444.5M177.5 444.5V461.0M180.5 452.0V465.6M181.5 465.6V467.7M183.5 461.9V484.7M184.5 484.7V499.2M187.5 481.1V482.4M188.5 482.4V486.8M189.5 486.8V504.1M190.5 504.1V514.8M192.5 509.3V513.7M193.5 513.7V515.2M196.5 501.7V512.7M197.5 512.7V517.4M201.5 487.6V499.0M205.5 458.9V462.7M209.5 427.0V429.3M210.5 429.3V432.4M212.5 431.2V436.1M213.5 436.1V441.4M214.5 441.4V450.0M215.5 450.0V453.8M218.5 441.6V446.4M220.5 444.0V445.5M222.5 430.3V443.3M232.5 417.7V419.8M236.5 412.7V416.3M248.5 329.7V338.8M249.5 338.8V339.8M253.5 302.8V312.2M254.5 312.2V317.2M256.5 315.5V322.9M257.5 322.9V329.5M258.5 329.5V330.5M261.5 320.6V323.5M263.5 321.4V327.0M264.5 327.0V328.9M267.5 315.5V316.5M269.5 313.0V316.3M270.5 316.3V321.5M271.5 321.5V323.1M272.5 323.1V327.4M273.5 327.4V333.0M274.5 333.0V340.5M275.5 340.5V346.6M279.5 324.3V329.7M280.5 329.7V335.2M281.5 335.2V336.2M282.5 336.2V346.4M283.5 346.4V351.8M284.5 351.8V357.3M286.5 356.3V363.0M287.5 363.0V368.0M288.5 368.0V374.7M289.5 374.7V380.6M290.5 380.6V384.6M291.5 384.6V388.4M292.5 388.4V393.0M293.5 393.0V398.5M298.5 376.6V381.8M299.5 381.8V386.8M300.5 386.8V388.9M301.5 388.9V391.1M302.5 391.1V396.2M304.5 395.2V397.8M305.5 397.8V400.5M307.5 396.9V403.3M308.5 403.3V408.3M313.5 391.1V392.1M314.5 392.1V397.1M319.5 351.1V359.3M320.5 359.3V373.3M322.5 370.8V378.2M324.5 376.9V377.9M326.5 372.1V375.6M327.5 375.6V381.3M328.5 381.3V400.3M329.5 400.3V414.7M330.5 414.7V422.8M331.5 422.8V434.5M332.5 434.5V445.1M333.5 445.1V448.1M338.5 401.2V403.7M339.5 403.7V405.6M340.5 405.6V407.6M341.5 407.6V410.4M342.5 410.4V424.3M343.5 424.3V434.2M344.5 434.2V439.9M345.5 439.9V445.5M346.5 445.5V451.9M347.5 451.9V461.4M348.5 461.4V474.3M355.5 442.5V447.0M356.5 447.0V448.9M360.5 442.5V443.5M361.5 443.5V445.0M362.5 445.0V457.5M376.5 593.8V601.9M378.5 590.2V606.2M379.5 606.2V622.3M381.5 609.4V631.8M382.5 631.8V644.0M383.5 644.0V659.0M386.5 646.9V661.8M388.5 648.5V671.6M392.5 632.2V663.5M395.5 659.2V668.8M396.5 668.8V681.7M397.5 681.7V694.6M401.5 643.2V657.0M402.5 657.0V658.3M408.5 576.0V594.9M409.5 594.9V597.0M410.5 597.0V612.1M411.5 612.1V623.3M412.5 623.3V636.8M413.5 636.8V646.1M414.5 646.1V656.5M415.5 656.5V665.8M417.5 661.0V662.1M418.5 662.1V665.3M427.5 590.6V595.3M428.5 595.3V603.0M429.5 603.0V610.5M431.5 599.5V600.5M432.5 600.5V605.8M434.5 604.1V607.5M435.5 607.5V616.3M436.5 616.3V628.7M441.5 602.9V606.2M442.5 606.2V609.1M446.5 588.2V589.2M451.5 568.9V577.7M452.5 577.7V578.7M454.5 573.1V579.1M455.5 579.1V585.6M456.5 585.6V596.7M461.5 575.8V578.8M462.5 578.8V581.5M466.5 570.2V571.2M467.5 571.2V574.5M468.5 574.5V581.7M469.5 581.7V590.4M470.5 590.4V593.3M473.5 570.9V579.9M474.5 579.9V586.9M477.5 579.3V583.3M478.5 583.3V585.3M481.5 576.9V586.7M482.5 586.7V594.5M485.5 590.7V600.1M488.5 586.1V593.9M489.5 593.9V600.2M490.5 600.2V606.8M491.5 606.8V610.2M492.5 610.2V611.8M493.5 611.8V619.4M499.5 606.3V609.6M500.5 609.6V613.6M502.5 608.6V614.5M504.5 613.5V620.6M505.5 620.6V623.9M506.5 623.9V626.7M507.5 626.7V628.6M508.5 628.6V635.4M509.5 635.4V640.7M513.5 605.6V619.5M514.5 619.5V624.7M516.5 618.2V623.4M517.5 623.4V629.2M520.5 612.1V622.4M521.5 622.4V628.4M522.5 628.4V630.0M523.5 630.0V631.5M524.5 631.5V636.2M525.5 636.2V637.2M526.5 637.2V638.5M527.5 638.5V641.9M530.5 628.7V633.7M531.5 633.7V639.2M532.5 639.2V649.1M533.5 649.1V652.3M534.5 652.3V660.7M538.5 631.4V641.6M539.5 641.6V648.9M540.5 648.9V656.6M547.5 599.0V608.9M548.5 608.9V626.4M549.5 626.4V634.3M552.5 623.8V631.9M553.5 631.9V633.5M554.5 633.5V634.5M556.5 627.7V642.1M557.5 642.1V652.5M558.5 652.5V665.9M561.5 642.8V645.9M567.5 625.4V641.3M568.5 641.3V650.2M569.5 650.2V661.5M572.5 650.5V660.3M574.5 640.1V645.8M575.5 645.8V648.9M594.5 568.0V591.5M595.5 591.5V612.2M596.5 612.2V615.3M602.5 571.3V573.8M603.5 573.8V579.1M604.5 579.1V590.8M607.5 564.5V566.6M608.5 566.6V573.6M609.5 573.6V582.5M617.5 524.6V527.9M622.5 504.6V507.9M625.5 502.1V503.2M627.5 501.7V513.2M628.5 513.2V527.4M629.5 527.4V533.0M630.5 533.0V546.0M631.5 546.0V557.0M632.5 557.0V563.2M633.5 563.2V571.5M634.5 571.5V574.3M638.5 555.6V564.3M641.5 557.9V561.1M642.5 561.1V562.8M644.5 559.1V573.2M648.5 543.9V546.6M649.5 546.6V548.9M653.5 543.1V547.4M654.5 547.4V549.9M655.5 549.9V562.9M656.5 562.9V571.2M657.5 571.2V574.6M658.5 574.6V578.5M659.5 578.5V582.7M660.5 582.7V587.7M661.5 587.7V592.2M662.5 592.2V601.5M666.5 561.6V572.4M667.5 572.4V582.5M668.5 582.5V585.7M669.5 585.7V600.7M672.5 594.4V603.1M675.5 590.0V595.0M676.5 595.0V598.8M677.5 598.8V603.8M680.5 595.7V598.1M681.5 598.1V605.9M682.5 605.9V611.4M683.5 611.4V619.0M684.5 619.0V622.9M685.5 622.9V626.0M687.5 620.0V622.0M688.5 622.0V631.9M689.5 631.9V637.4M691.5 636.4V645.5M692.5 645.5V649.7M693.5 649.7V659.5M695.5 655.4V657.9M699.5 645.8V648.9M700.5 648.9V659.6M701.5 659.6V660.8M702.5 660.8V661.8M703.5 661.8V669.9M704.5 669.9V678.8M705.5 678.8V679.8M706.5 679.8V684.7M707.5 684.7V686.7M708.5 686.7V692.2M709.5 692.2V697.7M710.5 697.7V706.4M711.5 706.4V715.3M712.5 715.3V719.9M718.5 694.5V697.2M719.5 697.2V700.8M721.5 695.0V701.9M722.5 701.9V705.3M723.5 705.3V709.7M730.5 644.8V687.5M731.5 687.5V726.3M737.5 667.4V670.7M740.5 656.0V663.7M741.5 663.7V666.2M742.5 666.2V667.2M748.5 646.9V651.4M750.5 647.2V648.2M757.5 599.0V602.4M758.5 602.4V603.4M762.5 582.9V585.5M763.5 585.5V592.6M764.5 592.6V604.1M765.5 604.1V614.2M766.5 614.2V620.5M768.5 608.2V630.4M769.5 630.4V643.0M775.5 580.7V583.5M778.5 562.3V566.2M783.5 546.7V555.3M786.5 542.8V553.3M791.5 523.5V529.4M792.5 529.4V530.6M794.5 526.1V528.4M795.5 528.4V533.7M796.5 533.7V537.5M799.5 531.0V532.1M800.5 532.1V533.1M802.5 524.8V525.8M805.5 519.9V524.5M806.5 524.5V525.7M815.5 617.0V628.0M819.5 566.8V576.4M820.5 576.4V577.4M823.5 548.4V558.4M824.5 558.4V567.6M833.5 517.6V534.6M834.5 534.6V544.7M839.5 518.3V533.2M842.5 525.7V536.1M844.5 531.6V534.8M845.5 534.8V541.1M846.5 541.1V543.3M847.5 543.3V544.3M848.5 544.3V550.6M849.5 550.6V557.2M850.5 557.2V558.6M852.5 557.5V566.8M853.5 566.8V580.4M854.5 580.4V581.4M855.5 581.4V592.6M856.5 592.6V603.1M857.5 603.1V623.2M858.5 623.2V634.7M861.5 616.2V620.4M862.5 620.4V632.0M865.5 621.3V623.0M866.5 623.0V633.7M868.5 630.8V636.0M869.5 636.0V650.0M875.5 624.9V628.7M879.5 610.6V611.6M884.5 592.0V594.7M888.5 590.3V592.0M889.5 592.0V593.0M890.5 593.0V600.2M891.5 600.2V603.5M892.5 603.5V608.5M893.5 608.5V615.5M894.5 615.5V624.9M896.5 622.7V629.0M897.5 629.0V638.4M898.5 638.4V645.2M899.5 645.2V656.1M900.5 656.1V675.9M904.5 656.9V666.4M905.5 666.4V670.6M908.5 663.7V667.6M912.5 650.8V655.6M923.5 597.3V599.5M926.5 595.7V602.8M928.5 598.0V600.8M929.5 600.8V607.6M930.5 607.6V616.7M931.5 616.7V624.8M936.5 592.6V595.3M938.5 594.3V595.3M940.5 592.8V597.1M943.5 590.0V591.6M945.5 587.2V598.9M946.5 598.9V607.9M956.5 563.7V564.8M960.5 545.4V547.1M962.5 544.9V548.4M963.5 548.4V549.4M964.5 549.4V554.0M969.5 543.6V555.7M970.5 555.7V558.6M973.5 556.6V563.7M979.5 537.5V547.5M980.5 547.5V560.4M981.5 560.4V568.9M984.5 560.1V562.0M985.5 562.0V567.8M986.5 567.8V580.5M987.5 580.5V591.8M988.5 591.8V606.9M992.5 579.4V580.5M1000.5 541.1V545.9M1003.5 528.3V529.3M1004.5 529.3V534.9M1005.5 534.9V540.6M1008.5 526.9V529.7M1010.5 526.7V528.1M1011.5 528.1V529.1M1013.5 524.6V530.7M1016.5 522.7V530.1M1018.5 523.1V525.3M1019.5 525.3V532.2M1020.5 532.2V539.1M1024.5 531.5V532.9M1025.5 532.9V533.9M1026.5 533.9V536.2M1037.5 604.7V612.9M1038.5 612.9V615.4M1040.5 595.0V611.4M1041.5 611.4V617.2M1042.5 617.2V619.2M1049.5 548.7V550.7M1050.5 550.7V580.4M1051.5 580.4V596.6M1054.5 561.0V565.1M1059.5 538.2V546.0M1060.5 546.0V551.1M1061.5 551.1V558.2M1062.5 558.2V577.5M1063.5 577.5V589.0M1064.5 589.0V590.2M1065.5 590.2V593.1M1066.5 593.1V600.7M1067.5 600.7V606.3M1068.5 606.3V611.8M1069.5 611.8V616.7M1070.5 616.7V623.2M1071.5 623.2V630.7M1074.5 609.4V610.9M1075.5 610.9V617.6M1082.5 588.5V593.4M1083.5 593.4V602.2M1084.5 602.2V603.9M1085.5 603.9V608.3M1086.5 608.3V629.3M1087.5 629.3V640.0M1088.5 640.0V657.6M1089.5 657.6V669.1M1090.5 669.1V673.4M1091.5 673.4V681.0M1093.5 669.5V671.9M1094.5 671.9V685.3M1095.5 685.3V686.5M1096.5 686.5V687.5M1097.5 687.5V691.3M1098.5 691.3V698.0M1099.5 698.0V699.7M1100.5 699.7V707.2M1104.5 701.7V705.2M1105.5 705.2V714.4M1108.5 695.6V697.3M1109.5 697.3V714.8M1113.5 699.9V704.9M1114.5 704.9V707.3M1116.5 694.4V707.8M1117.5 707.8V712.1M1118.5 712.1V721.2M1119.5 721.2V730.6M1120.5 730.6V741.4M1121.5 741.4V747.3M1122.5 747.3V749.4M1124.5 748.4V750.2M1127.5 735.0V738.0M1128.5 738.0V739.0M1129.5 739.0V767.8M1130.5 767.8V785.3M1131.5 785.3V796.2M1137.5 774.5V781.8M1138.5 781.8V788.0M1139.5 788.0V791.6M1140.5 791.6V792.6M1141.5 792.6V801.1M1144.5 789.9V794.9M1145.5 794.9V816.9M1146.5 816.9V817.9M1147.5 817.9V820.0M1152.5 789.1V790.7M1153.5 790.7V796.4M1157.5 771.2V774.4M1158.5 774.4V779.0M1159.5 779.0V785.6M1161.5 784.6V789.5M1162.5 789.5V793.6M1163.5 793.6V795.3M1166.5 776.8V777.8M1170.5 764.1V774.1M1171.5 774.1V777.8M1177.5 759.1V760.1M1178.5 760.1V768.2M1179.5 768.2V769.2M1180.5 769.2V774.3M1181.5 774.3V776.8M1182.5 776.8V781.9M1183.5 781.9V783.7M1184.5 783.7V791.4M1185.5 791.4V792.4M1196.5 736.9V740.6M1197.5 740.6V747.5M1201.5 718.2V734.8M1202.5 734.8V757.6M1203.5 757.6V768.9M1204.5 768.9V774.4M1207.5 762.0V764.0M1208.5 764.0V772.4M1212.5 762.6V763.6M1213.5 763.6V778.4M1214.5 778.4V783.1M1215.5 783.1V787.5M1221.5 749.0V768.1M1226.5 752.1V759.1M1227.5 759.1V764.9M1229.5 760.0V761.4M1231.5 748.6V751.3M1232.5 751.3V766.0M1233.5 766.0V773.1M1234.5 773.1V777.5M1239.5 757.7V759.6M1246.5 741.2V744.8" stroke="#c21515" stroke-width="1" fill="none"/>
<path d="M3.5 131.6V123.9M4.5 123.9V112.0M7.5 116.7V111.7M8.5 111.7V110.3M9.5 110.3V101.6M11.5 102.6V100.9M13.5 103.3V100.1M15.5 101.1V100.1M20.5 112.9V108.2M21.5 108.2V100.6M22.5 100.6V96.8M23.5 96.8V91.2M24.5 91.2V86.5M25.5 86.5V79.9M26.5 79.9V74.0M27.5 74.0V71.4M30.5 75.1V68.6M31.5 68.6V66.4M35.5 83.2V78.4M44.5 121.3V117.7M49.5 126.7V114.1M51.5 115.4V114.4M52.5 114.4V110.8M54.5 114.4V112.4M59.5 127.6V121.4M60.5 121.4V108.7M61.5 108.7V104.5M62.5 104.5V100.0M63.5 100.0V99.0M68.5 122.5V119.8M69.5 119.8V113.6M71.5 120.5V118.0M72.5 118.0V111.0M74.5 112.4V111.4M77.5 125.6V122.3M78.5 122.3V116.7M79.5 116.7V108.7M82.5 121.9V106.1M85.5 111.4V106.2M86.5 106.2V102.8M88.5 113.1V101.1M89.5 101.1V95.4M93.5 102.8V98.1M94.5 98.1V86.5M95.5 86.5V84.8M96.5 84.8V79.0M97.5 79.0V78.0M100.5 85.2V79.7M101.5 79.7V77.6M104.5 83.5V78.2M105.5 78.2V74.6M108.5 82.0V81.0M114.5 121.4V118.6M115.5 118.6V111.8M116.5 111.8V109.9M118.5 112.0V106.9M121.5 116.0V107.9M122.5 107.9V101.8M124.5 109.3V108.3M125.5 108.3V103.9M129.5 117.5V116.5M132.5 127.9V126.0M133.5 126.0V125.0M140.5 162.1V156.3M141.5 156.3V150.1M153.5 458.0V427.5M154.5 427.5V420.2M156.5 431.0V429.6M157.5 429.6V417.3M158.5 417.3V383.8M160.5 403.4V392.6M163.5 426.0V418.3M164.5 418.3V405.9M166.5 415.8V408.1M167.5 408.1V395.9M170.5 409.2V401.9M171.5 401.9V400.9M174.5 435.8V430.3M178.5 461.0V458.3M179.5 458.3V452.0M182.5 467.7V461.9M185.5 499.2V482.1M186.5 482.1V481.1M191.5 514.8V509.3M194.5 515.2V508.0M195.5 508.0V501.7M198.5 517.4V506.3M199.5 506.3V499.4M200.5 499.4V487.6M202.5 499.0V493.1M203.5 493.1V461.2M204.5 461.2V458.9M206.5 462.7V456.5M207.5 456.5V440.2M208.5 440.2V427.0M211.5 432.4V431.2M216.5 453.8V446.2M217.5 446.2V441.6M219.5 446.4V444.0M221.5 445.5V430.3M223.5 443.3V440.3M224.5 440.3V437.4M225.5 437.4V431.2M226.5 431.2V430.2M227.5 430.2V429.2M228.5 429.2V425.8M229.5 425.8V423.6M230.5 423.6V418.9M231.5 418.9V417.7M233.5 419.8V417.6M234.5 417.6V413.7M235.5 413.7V412.7M237.5 416.3V409.2M238.5 409.2V403.9M239.5 403.9V397.9M240.5 397.9V389.3M241.5 389.3V372.7M242.5 372.7V363.6M243.5 363.6V352.3M244.5 352.3V341.9M245.5 341.9V340.4M246.5 340.4V336.9M247.5 336.9V329.7M250.5 339.8V323.9M251.5 323.9V312.6M252.5 312.6V302.8M255.5 317.2V315.5M259.5 330.5V327.1M260.5 327.1V320.6M262.5 323.5V321.4M265.5 328.9V323.5M266.5 323.5V315.5M268.5 316.5V313.0M276.5 346.6V341.7M277.5 341.7V329.1M278.5 329.1V324.3M285.5 357.3V356.3M294.5 398.5V394.7M295.5 394.7V393.4M296.5 393.4V385.6M297.5 385.6V376.6M303.5 396.2V395.2M306.5 400.5V396.9M309.5 408.3V404.4M310.5 404.4V399.6M311.5 399.6V394.3M312.5 394.3V391.1M315.5 397.1V396.1M316.5 396.1V377.8M317.5 377.8V364.3M318.5 364.3V351.1M321.5 373.3V370.8M323.5 378.2V376.9M325.5 377.9V372.1M334.5 448.1V428.9M335.5 428.9V411.1M336.5 411.1V402.7M337.5 402.7V401.2M349.5 474.3V466.3M350.5 466.3V456.1M351.5 456.1V450.6M352.5 450.6V449.6M353.5 449.6V445.9M354.5 445.9V442.5M357.5 448.9V446.5M358.5 446.5V445.5M359.5 445.5V442.5M363.5 457.5V455.7M364.5 455.7V446.1M374.5 635.5V601.7M375.5 601.7V593.8M377.5 601.9V590.2M380.5 622.3V609.4M384.5 659.0V649.5M385.5 649.5V646.9M387.5 661.8V648.5M389.5 671.6V670.6M390.5 670.6V658.3M391.5 658.3V632.2M393.5 663.5V660.2M394.5 660.2V659.2M398.5 694.6V685.0M399.5 685.0V664.1M400.5 664.1V643.2M403.5 658.3V656.2M404.5 656.2V629.4M405.5 629.4V598.5M406.5 598.5V583.3M407.5 583.3V576.0M416.5 665.8V661.0M419.5 665.3V662.1M420.5 662.1V653.6M421.5 653.6V644.6M422.5 644.6V634.4M423.5 634.4V620.4M424.5 620.4V607.6M425.5 607.6V596.9M426.5 596.9V590.6M430.5 610.5V599.5M433.5 605.8V604.1M437.5 628.7V622.0M438.5 622.0V621.0M439.5 621.0V612.1M440.5 612.1V602.9M443.5 609.1V595.9M444.5 595.9V593.0M445.5 593.0V588.2M447.5 589.2V580.6M448.5 580.6V578.0M449.5 578.0V573.7M450.5 573.7V568.9M453.5 578.7V573.1M457.5 596.7V589.6M458.5 589.6V585.6M459.5 585.6V579.6M460.5 579.6V575.8M463.5 581.5V576.8M464.5 576.8V571.2M465.5 571.2V570.2M471.5 593.3V582.1M472.5 582.1V570.9M475.5 586.9V583.4M476.5 583.4V579.3M479.5 585.3V577.9M480.5 577.9V576.9M483.5 594.5V591.7M484.5 591.7V590.7M486.5 600.1V595.5M487.5 595.5V586.1M494.5 619.4V616.9M495.5 616.9V611.7M496.5 611.7V609.6M497.5 609.6V608.2M498.5 608.2V606.3M501.5 613.6V608.6M503.5 614.5V613.5M510.5 640.7V634.0M511.5 634.0V621.6M512.5 621.6V605.6M515.5 624.7V618.2M518.5 629.2V617.4M519.5 617.4V612.1M528.5 641.9V638.4M529.5 638.4V628.7M535.5 660.7V659.7M536.5 659.7V643.3M537.5 643.3V631.4M541.5 656.6V641.0M542.5 641.0V625.8M543.5 625.8V624.5M544.5 624.5V621.0M545.5 621.0V606.0M546.5 606.0V599.0M550.5 634.3V630.6M551.5 630.6V623.8M555.5 634.5V627.7M559.5 665.9V651.9M560.5 651.9V642.8M562.5 645.9V644.3M563.5 644.3V631.9M564.5 631.9V630.3M565.5 630.3V626.4M566.5 626.4V625.4M570.5 661.5V655.0M571.5 655.0V650.5M573.5 660.3V640.1M576.5 648.9V645.6M577.5 645.6V637.6M578.5 637.6V622.0M579.5 622.0V613.3M580.5 613.3V612.3M581.5 612.3V607.8M582.5 607.8V600.9M583.5 600.9V599.7M584.5 599.7V598.7M585.5 598.7V596.3M597.5 615.3V599.7M598.5 599.7V591.1M599.5 591.1V579.5M600.5 579.5V574.5M601.5 574.5V571.3M605.5 590.8V576.3M606.5 576.3V564.5M610.5 582.5V581.3M611.5 581.3V572.4M612.5 572.4V564.4M613.5 564.4V545.5M614.5 545.5V540.8M615.5 540.8V539.8M616.5 539.8V524.6M618.5 527.9V523.7M619.5 523.7V521.2M620.5 521.2V510.7M621.5 510.7V504.6M623.5 507.9V505.9M624.5 505.9V502.1M626.5 503.2V501.7M635.5 574.3V566.1M636.5 566.1V561.3M637.5 561.3V555.6M639.5 564.3V563.3M640.5 563.3V557.9M643.5 562.8V559.1M645.5 573.2V571.4M646.5 571.4V554.0M647.5 554.0V543.9M650.5 548.9V546.1M651.5 546.1V545.1M652.5 545.1V543.1M663.5 601.5V597.9M664.5 597.9V577.2M665.5 577.2V561.6M670.5 600.7V598.1M671.5 598.1V594.4M673.5 603.1V601.8M674.5 601.8V590.0M678.5 603.8V598.7M679.5 598.7V595.7M686.5 626.0V620.0M690.5 637.4V636.4M694.5 659.5V655.4M696.5 657.9V656.2M697.5 656.2V652.4M698.5 652.4V645.8M713.5 719.9V718.2M714.5 718.2V713.1M715.5 713.1V702.6M716.5 702.6V699.0M717.5 699.0V694.5M720.5 700.8V695.0M724.5 709.7V707.2M725.5 707.2V692.5M726.5 692.5V680.1M727.5 680.1V673.6M728.5 673.6V672.6M729.5 672.6V644.8M732.5 726.3V718.8M733.5 718.8V699.6M734.5 699.6V683.8M735.5 683.8V669.0M736.5 669.0V667.4M738.5 670.7V660.0M739.5 660.0V656.0M743.5 667.2V659.2M744.5 659.2V657.4M745.5 657.4V653.2M746.5 653.2V651.2M747.5 651.2V646.9M749.5 651.4V647.2M751.5 648.2V647.2M752.5 647.2V646.2M753.5 646.2V640.6M754.5 640.6V621.1M755.5 621.1V607.3M756.5 607.3V599.0M759.5 603.4V597.0M760.5 597.0V588.9M761.5 588.9V582.9M767.5 620.5V608.2M770.5 643.0V641.3M771.5 641.3V615.9M772.5 615.9V606.3M773.5 606.3V603.8M774.5 603.8V580.7M776.5 583.5V572.4M777.5 572.4V562.3M779.5 566.2V562.1M780.5 562.1V551.2M781.5 551.2V547.7M782.5 547.7V546.7M784.5 555.3V551.6M785.5 551.6V542.8M787.5 553.3V551.1M788.5 551.1V536.7M789.5 536.7V529.1M790.5 529.1V523.5M793.5 530.6V526.1M797.5 537.5V533.7M798.5 533.7V531.0M801.5 533.1V524.8M803.5 525.8V522.0M804.5 522.0V519.9M816.5 628.0V600.3M817.5 600.3V578.7M818.5 578.7V566.8M821.5 577.4V570.0M822.5 570.0V548.4M825.5 567.6V565.7M826.5 565.7V555.1M827.5 555.1V545.7M828.5 545.7V541.5M829.5 541.5V537.2M830.5 537.2V528.8M831.5 528.8V519.8M832.5 519.8V517.6M835.5 544.7V538.0M836.5 538.0V536.8M837.5 536.8V533.5M838.5 533.5V518.3M840.5 533.2V531.2M841.5 531.2V525.7M843.5 536.1V531.6M851.5 558.6V557.5M859.5 634.7V628.9M860.5 628.9V616.2M863.5 632.0V629.4M864.5 629.4V621.3M867.5 633.7V630.8M870.5 650.0V642.0M871.5 642.0V639.8M872.5 639.8V633.9M873.5 633.9V626.5M874.5 626.5V624.9M876.5 628.7V622.7M877.5 622.7V617.5M878.5 617.5V610.6M880.5 611.6V607.2M881.5 607.2V602.1M882.5 602.1V595.9M883.5 595.9V592.0M885.5 594.7V593.4M886.5 593.4V591.6M887.5 591.6V590.3M895.5 624.9V622.7M901.5 675.9V667.0M902.5 667.0V659.6M903.5 659.6V656.9M906.5 670.6V664.7M907.5 664.7V663.7M909.5 667.6V662.1M910.5 662.1V652.6M911.5 652.6V650.8M913.5 655.6V639.0M914.5 639.0V635.8M915.5 635.8V634.8M916.5 634.8V633.8M917.5 633.8V627.0M918.5 627.0V619.6M919.5 619.6V613.5M920.5 613.5V601.0M921.5 601.0V598.3M922.5 598.3V597.3M924.5 599.5V597.6M925.5 597.6V595.7M927.5 602.8V598.0M932.5 624.8V613.6M933.5 613.6V601.0M934.5 601.0V596.4M935.5 596.4V592.6M937.5 595.3V594.3M939.5 595.3V592.8M941.5 597.1V593.2M942.5 593.2V590.0M944.5 591.6V587.2M947.5 607.9V606.9M948.5 606.9V604.5M949.5 604.5V602.5M950.5 602.5V593.9M951.5 593.9V583.9M952.5 583.9V578.2M953.5 578.2V572.6M954.5 572.6V568.8M955.5 568.8V563.7M957.5 564.8V560.1M958.5 560.1V546.4M959.5 546.4V545.4M961.5 547.1V544.9M965.5 554.0V550.8M966.5 550.8V549.8M967.5 549.8V545.5M968.5 545.5V543.6M971.5 558.6V557.6M972.5 557.6V556.6M974.5 563.7V560.0M975.5 560.0V551.5M976.5 551.5V545.0M977.5 545.0V538.6M978.5 538.6V537.5M982.5 568.9V566.9M983.5 566.9V560.1M989.5 606.9V599.8M990.5 599.8V591.3M991.5 591.3V579.4M993.5 580.5V572.5M994.5 572.5V567.3M995.5 567.3V561.9M996.5 561.9V555.9M997.5 555.9V548.1M998.5 548.1V542.7M999.5 542.7V541.1M1001.5 545.9V537.3M1002.5 537.3V528.3M1006.5 540.6V536.2M1007.5 536.2V526.9M1009.5 529.7V526.7M1012.5 529.1V524.6M1014.5 530.7V524.8M1015.5 524.8V522.7M1017.5 530.1V523.1M1021.5 539.1V537.0M1022.5 537.0V534.9M1023.5 534.9V531.5M1027.5 536.2V528.4M1035.5 627.7V626.7M1036.5 626.7V604.7M1039.5 615.4V595.0M1043.5 619.2V605.8M1044.5 605.8V589.1M1045.5 589.1V579.3M1046.5 579.3V569.6M1047.5 569.6V551.0M1048.5 551.0V548.7M1052.5 596.6V562.0M1053.5 562.0V561.0M1055.5 565.1V559.1M1056.5 559.1V552.9M1057.5 552.9V546.6M1058.5 546.6V538.2M1072.5 630.7V621.2M1073.5 621.2V609.4M1076.5 617.6V614.5M1077.5 614.5V603.6M1078.5 603.6V599.1M1079.5 599.1V592.0M1080.5 592.0V590.0M1081.5 590.0V588.5M1092.5 681.0V669.5M1101.5 707.2V705.3M1102.5 705.3V703.5M1103.5 703.5V701.7M1106.5 714.4V713.4M1107.5 713.4V695.6M1110.5 714.8V713.8M1111.5 713.8V700.9M1112.5 700.9V699.9M1115.5 707.3V694.4M1123.5 749.4V748.4M1125.5 750.2V739.3M1126.5 739.3V735.0M1132.5 796.2V791.4M1133.5 791.4V785.9M1134.5 785.9V780.2M1135.5 780.2V775.5M1136.5 775.5V774.5M1142.5 801.1V799.4M1143.5 799.4V789.9M1148.5 820.0V811.3M1149.5 811.3V806.7M1150.5 806.7V796.0M1151.5 796.0V789.1M1154.5 796.4V786.3M1155.5 786.3V774.2M1156.5 774.2V771.2M1160.5 785.6V784.6M1164.5 795.3V784.8M1165.5 784.8V776.8M1167.5 777.8V772.5M1168.5 772.5V771.5M1169.5 771.5V764.1M1172.5 777.8V773.9M1173.5 773.9V771.5M1174.5 771.5V768.0M1175.5 768.0V763.9M1176.5 763.9V759.1M1186.5 792.4V782.6M1187.5 782.6V776.6M1188.5 776.6V772.4M1189.5 772.4V766.7M1190.5 766.7V762.6M1191.5 762.6V753.0M1192.5 753.0V751.1M1193.5 751.1V750.1M1194.5 750.1V739.9M1195.5 739.9V736.9M1198.5 747.5V733.2M1199.5 733.2V725.2M1200.5 725.2V718.2M1205.5 774.4V766.7M1206.5 766.7V762.0M1209.5 772.4V766.8M1210.5 766.8V764.7M1211.5 764.7V762.6M1216.5 787.5V784.4M1217.5 784.4V781.2M1218.5 781.2V767.9M1219.5 767.9V752.8M1220.5 752.8V749.0M1222.5 768.1V763.0M1223.5 763.0V760.6M1224.5 760.6V757.4M1225.5 757.4V752.1M1228.5 764.9V760.0M1230.5 761.4V748.6M1235.5 777.5V770.9M1236.5 770.9V763.8M1237.5 763.8V762.1M1238.5 762.1V757.7M1240.5 759.6V755.0M1241.5 755.0V751.8M1242.5 751.8V749.3M1243.5 749.3V747.5M1244.5 747.5V743.4M1245.5 743.4V741.2M1247.5 744.8V738.8" stroke="#2b8a2b" stroke-width="1" fill="none"/>
<!-- trend line (under zones) -->
<path d="M107.900 72.100L1296.700 643" stroke="#ff3d0e" stroke-width="4" fill="none"/>
<!-- zones -->
<rect x="142" y="180" width="1155" height="119.500" fill="#a0a0a0" fill-opacity="0.26"/>
<rect x="365" y="446" width="933" height="52.700" fill="#a0a0a0" fill-opacity="0.26"/>
<!-- support -->
<path d="M398 700.8L1299 704" stroke="#00a0d8" stroke-width="4" fill="none"/>
<path d="M1298.5 0V907" stroke="#d0d0d0" stroke-width="1"/><path d="M1299 49.5h4M1299 109.5h4M1299 169.5h4M1299 229.5h4M1299 289.5h4M1299 349.5h4M1299 409.5h4M1299 469.5h4M1299 529.5h4M1299 589.5h4M1299 649.5h4M1299 709.5h4M1299 769.5h4M1299 829.5h4M1299 889.5h4" stroke="#8a8a8a" stroke-width="1"/><path d="M30.5 904V907M153.5 904V907M251.5 904V907M373.5 904V907M472.5 904V907M594.5 904V907M692.5 904V907M814.5 904V907M913.5 904V907M1035.5 904V907M1133.5 904V907M1232.5 904V907" stroke="#444" stroke-width="1"/>
<g class="pl"><text x="1309.2" y="52.8" textLength="55.2" lengthAdjust="spacing">16.350,00</text><text x="1309.2" y="112.8" textLength="55.2" lengthAdjust="spacing">16.300,00</text><text x="1309.2" y="172.8" textLength="55.2" lengthAdjust="spacing">16.250,00</text><text x="1309.2" y="232.8" textLength="55.2" lengthAdjust="spacing">16.200,00</text><text x="1309.2" y="292.8" textLength="55.2" lengthAdjust="spacing">16.150,00</text><text x="1309.2" y="352.8" textLength="55.2" lengthAdjust="spacing">16.100,00</text><text x="1309.2" y="412.8" textLength="55.2" lengthAdjust="spacing">16.050,00</text><text x="1309.2" y="472.8" textLength="55.2" lengthAdjust="spacing">16.000,00</text><text x="1309.2" y="532.8" textLength="55.2" lengthAdjust="spacing">15.950,00</text><text x="1309.2" y="592.8" textLength="55.2" lengthAdjust="spacing">15.900,00</text><text x="1309.2" y="652.8" textLength="55.2" lengthAdjust="spacing">15.850,00</text><text x="1309.2" y="712.8" textLength="55.2" lengthAdjust="spacing">15.800,00</text><text x="1309.2" y="772.8" textLength="55.2" lengthAdjust="spacing">15.750,00</text><text x="1309.2" y="832.8" textLength="55.2" lengthAdjust="spacing">15.700,00</text><text x="1309.2" y="892.8" textLength="55.2" lengthAdjust="spacing">15.650,00</text></g>
<g class="xl"><text x="31.2" y="901">13:00</text><text x="153.7" y="901">2</text><text x="251.4" y="901">13:00</text><text x="374.4" y="901">3</text><text x="472.1" y="901">13:00</text><text x="594.0" y="901">4</text><text x="692.3" y="901">13:00</text><text x="815.1" y="901">7</text><text x="913.2" y="901">13:00</text><text x="1036.5" y="901">8</text><text x="1134.2" y="901">13:00</text><text x="1233.2" y="901">17:00</text></g>
<!-- price tag -->
<path d="M1298 739.5L1306 730H1369V749H1306Z" fill="#f05d5d"/>
<text x="1309.2" y="743.500" font-size="12" fill="#000" textLength="55.200" lengthAdjust="spacing">15.774,93</text>
<!-- annotation -->
<text x="865.800" y="821" font-size="37.500" fill="#3d8a9e" stroke="#3d8a9e" stroke-width="0.900" textLength="231.500" lengthAdjust="spacingAndGlyphs">Bodenbildung?</text>
<!-- header -->
<g stroke="#f05d5d" stroke-width="1" fill="none"><path d="M7.4 14v3.600M11.500 7.300v3.500M11.500 16v1.600M15.500 9.300v4"/><rect x="6.500" y="9.300" width="1.800" height="4.500"/><rect x="10.500" y="11" width="2" height="5"/><rect x="14.500" y="13.500" width="2" height="3.800"/></g>
<g font-size="10.9" fill="#f05d5d"><text x="23.400" y="16.900">DAX (XETRA, Last)</text><text x="125.100" y="16.900">O: 15.774,93</text><text x="194.200" y="16.900">H: 15.774,93</text><text x="262.100" y="16.900">L: 15.774,93</text><text x="328.500" y="16.900">C: 15.774,93</text></g>
<g stroke="#333" stroke-width="1" fill="none"><circle cx="12.500" cy="28.400" r="4.950"/><path d="M12.500 25.600v3l2 1.700"/></g>
<g font-size="10.9" fill="#444"><text x="22.800" y="32.600">01.08.2023 11:46 - 08.08.2023 17:55</text><text x="209.400" y="32.600" font-size="11">(1 Woche, 1 Minute)</text></g>
<!-- Bernstein's Boerse -->
<text x="13.800" y="749" style="font-family:'DejaVu Serif','Liberation Serif',serif" font-weight="bold" font-size="13.300" fill="#0f3557" stroke="#0f3557" stroke-width="0.300" textLength="76.300" lengthAdjust="spacingAndGlyphs">Bernstein‘s</text>
<path d="M91.500 746h2.500v3h-2.500zM94.900 741.400h2.400v7.600h-2.400zM98.400 735.300h2.400v13.700h-2.400z" fill="#2fb4e9"/>
<path d="M79.800 751.300h1.800v5.300h-1.800zM83 751.300h2.900v8.500h-2.900zM87 751.300h1.800v3.500h-1.800z" fill="#e30613"/>
<text x="90.900" y="760.500" style="font-family:'DejaVu Serif','Liberation Serif',serif" font-size="12" fill="#0f3557" textLength="38" lengthAdjust="spacingAndGlyphs">Börse</text>
<!-- JFD -->
<g fill="#2b3138" stroke="#2b3138" stroke-width="0.9" font-weight="bold" font-size="35.400"><text x="13.100" y="800.500" textLength="13.400" lengthAdjust="spacingAndGlyphs">J</text><text x="27" y="800.500" textLength="22.400" lengthAdjust="spacingAndGlyphs">F</text><text x="46.260" y="800.500" textLength="26.500" lengthAdjust="spacingAndGlyphs">D</text></g>
<rect x="48" y="770" width="6.100" height="34" fill="#fff"/>
<path d="M51.800 774.100V800.800" stroke="#2b3138" stroke-width="1.200"/><rect x="49.900" y="782.900" width="3.900" height="8.800" rx="0.500" fill="#2b3138"/>
<text x="12.600" y="812.600" font-size="10.600" fill="#80858b" textLength="58.300" lengthAdjust="spacing">BROKERS</text>
<!-- DAX live -->
<text x="7" y="876.600" font-size="20.400" font-weight="bold" font-style="italic" fill="#c4161c" stroke="#c4161c" stroke-width="0.400" textLength="86.500" lengthAdjust="spacingAndGlyphs">DAX live</text>
<text x="26.900" y="881.900" font-size="4.200" font-weight="bold" fill="#111" textLength="67" lengthAdjust="spacing">by Andreas Bernstein</text>
<path d="M100.800 862L124.700 865.700L123.900 880.100L99.300 879.700Z" fill="#c4161c" stroke="#c4161c" stroke-width="5" stroke-linejoin="round"/><path d="M102.800 866.900L120.800 864.900L121.200 879.300L103.400 878.600Z" fill="#fff" stroke="#fff" stroke-width="3" stroke-linejoin="round"/><path d="M108 868.800L115.100 872.300L108 876.100Z" fill="#c4161c" stroke="#c4161c" stroke-width="0.500" stroke-linejoin="round"/>

</svg>
</body></html>
